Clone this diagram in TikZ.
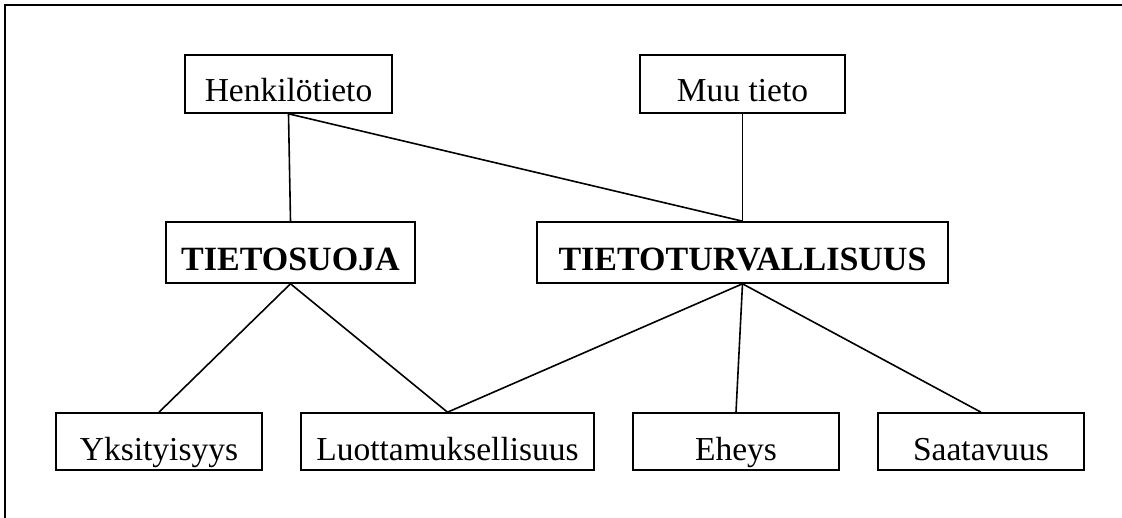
\documentclass[tikz,border=0pt]{standalone}
\usepackage{fontspec}
\setmainfont{Liberation Serif}
\begin{document}
\begin{tikzpicture}[x=1pt,y=-1pt,
  box/.style={draw, line width=1.6pt, rectangle, inner sep=0pt, text depth=0pt, font=\fontsize{33.5}{38}\selectfont},
  topbox/.style={box, minimum height=58pt, text height=35.4pt},
  midbox/.style={box, minimum height=61pt, text height=36.4pt, font=\fontsize{34}{40}\selectfont\bfseries},
  lowbox/.style={box, minimum height=57pt, minimum width=206pt, text height=37pt},
  link/.style={line width=1.6pt}]
\useasboundingbox (0,0) rectangle (1122,517);
\draw[line width=2.2pt] (5,530) -- (5,5) -- (1130,5);
\node[topbox, minimum width=207pt] (henk) at (288.5,84) {Henkilötieto};
\node[topbox, minimum width=205pt] (muu) at (742.5,84) {Muu tieto};
\node[midbox, minimum width=249pt] (ts) at (290.5,252.5) {TIETOSUOJA};
\node[midbox, minimum width=411pt] (tt) at (742.5,252.5) {TIETOTURVALLISUUS};
\node[lowbox] (yks) at (159,441.5) {Yksityisyys};
\node[lowbox, minimum width=293pt] (luo) at (447.5,441.5) {Luottamuksellisuus};
\node[lowbox] (ehe) at (736,441.5) {Eheys};
\node[lowbox] (saa) at (981,441.5) {Saatavuus};
\draw[link] (henk.south) -- (ts.north);
\draw[link] (henk.south) -- (tt.north);
\draw[link] (muu.south) -- (tt.north);
\draw[link] (ts.south) -- (yks.north);
\draw[link] (ts.south) -- (luo.north);
\draw[link] (tt.south) -- (luo.north);
\draw[link] (tt.south) -- (ehe.north);
\draw[link] (tt.south) -- (saa.north);
\end{tikzpicture}
\end{document}
